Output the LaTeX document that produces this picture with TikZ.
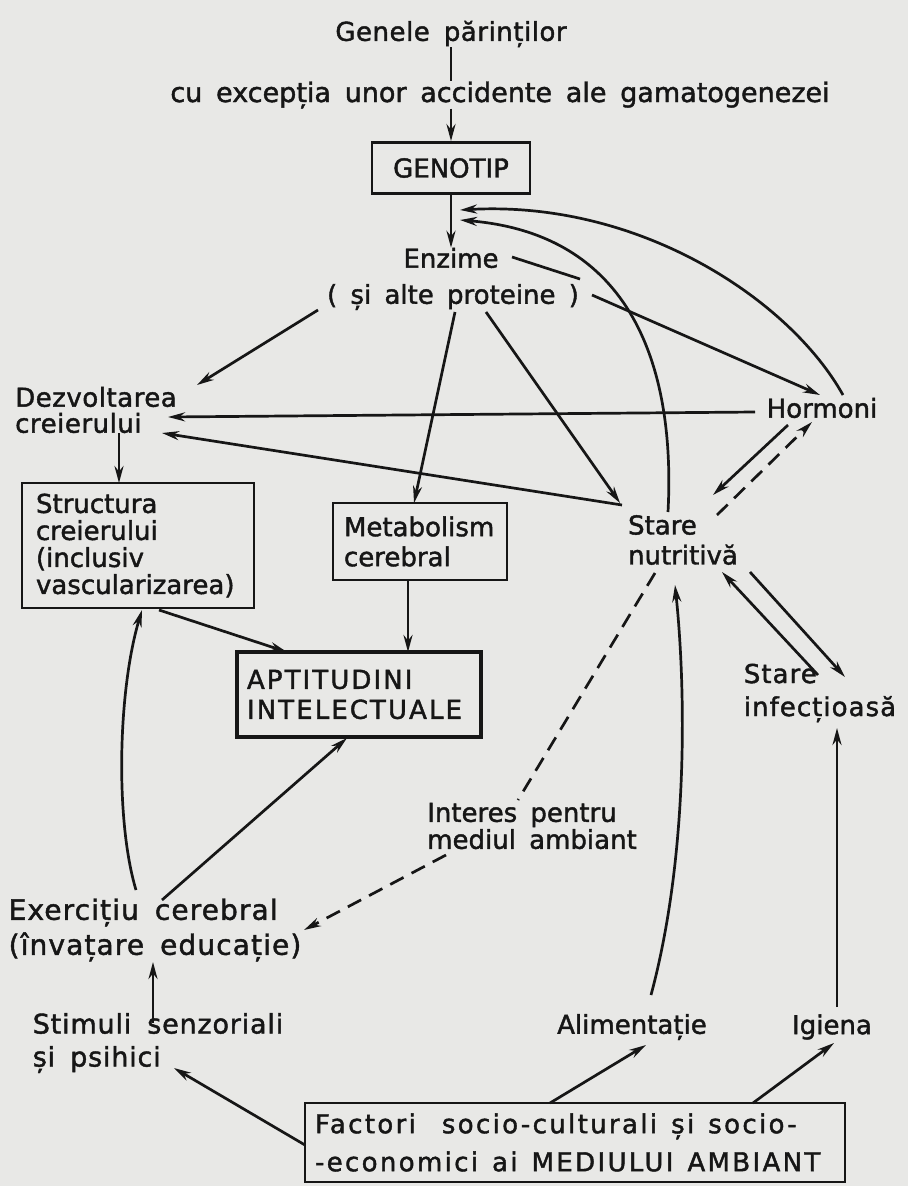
\documentclass[tikz,border=0pt]{standalone}
\usepackage{fontspec}
\newfontfamily\lbfam{DejaVu Sans}[WordSpace=1.6,FakeBold=1.6]
\newcommand\lbf[3]{\lbfam\addfontfeature{LetterSpace=#3}\fontsize{#1}{#2}\selectfont}
\usetikzlibrary{arrows.meta}
\definecolor{paper}{RGB}{232,232,230}
\definecolor{ink}{RGB}{22,22,22}
\begin{document}
\begin{tikzpicture}[x=1pt,y=-1pt,
 txt/.style={inner sep=0pt, align=left, text=ink, font={\lbf{26}{30}{0}}},
 boxn/.style={draw=ink, line width=2.8pt, inner ysep=2pt, align=left, text=ink, font={\lbf{26}{30}{0}}},
 ln/.style={draw=ink, line width=2.7pt},
 conn/.style={ln, -{Stealth[length=17pt,width=9pt]}},
 dsh/.style={dash pattern=on 15pt off 9pt},
]
\fill[paper] (0,0) rectangle (908,1186);
\useasboundingbox (0,0) rectangle (908,1186);

% nodes
\node[txt, font={\lbf{26}{30}{2}}] (gen) at (451,34) {Genele părinților};
\node[txt, font={\lbf{27}{30}{0}}] (exc) at (500,95) {cu excepția unor accidente ale gamatogenezei};
\node[boxn, minimum width=158pt, minimum height=51pt, align=center] (geno) at (451,168) {GENOTIP};
\node[txt] (enz1) at (451,258) {Enzime};
\node[txt] (enz2) at (453,297) {( și alte proteine )};
\node[txt, font={\lbf{26}{26}{2}}] (dez) at (96,410) {Dezvoltarea\\creierului};
\node[txt] (horm) at (822,408) {Hormoni};
\node[boxn, minimum width=232pt, minimum height=125pt, text width=204pt, inner xsep=14pt, font={\lbf{26}{27}{0}}] (str) at (138,545.5) {Structura\\creierului\\(inclusiv\\vascularizarea)};
\node[boxn, minimum width=174pt, minimum height=77pt, text width=152pt, inner xsep=11pt] (met) at (420,541.5) {Metabolism\\cerebral};
\node[boxn, line width=4.5pt, minimum width=244pt, minimum height=85pt, text width=224pt, inner xsep=10pt, font={\lbf{26}{30}{8}}] (apt) at (359,694.5) {APTITUDINI\\INTELECTUALE};
\node[txt] (stn) at (683,540) {Stare\\nutritivă};
\node[txt, font={\lbf{26}{33}{4}}] (sti) at (820,693) {Stare\\infecțioasă};
\node[txt, font={\lbf{26}{27}{0}}] (int) at (532,826) {Interes pentru\\mediul ambiant};
\node[txt, font={\lbf{28}{35}{4}}] (exe) at (155,930) {Exercițiu cerebral\\(învațare educație)};
\node[txt, font={\lbf{27}{33}{3}}] (stim) at (158,1043) {Stimuli\hspace{16pt}senzoriali\\și psihici};
\node[txt] (alim) at (632,1027) {Alimentație};
\node[txt] (igi) at (832,1027) {Igiena};
\node[boxn, minimum width=540pt, minimum height=79pt, text width=520pt, inner xsep=10pt, font={\lbf{26}{38}{9}}] (fac) at (575,1142.5) {Factori\hspace{26pt}socio-culturali\hspace{14pt}și\hspace{14pt}socio-\\-economici\hspace{14pt}ai\hspace{14pt}MEDIULUI\hspace{14pt}AMBIANT};

% connectors
\draw[ln] (gen.south -| geno.north) -- (exc.north -| geno.north);
\draw[conn] (exc.south -| geno.north) -- (geno.north);
\draw[conn] (geno.south) -- (enz1.north);
\draw[conn] ([shift={(21,-13)}]horm.center) .. controls (790,300) and (640,200) .. ([shift={(9,42)}]geno.center);
\draw[conn] ([shift={(-15,-28)}]stn.center) .. controls (675,380) and (640,235) .. ([shift={(9,52)}]geno.center);
\draw[conn] ([shift={(61,-1)}]enz1.center) -- ([shift={(129,21)}]enz1.center)
            ([shift={(139,-2)}]enz2.center) -- ([shift={(-2,-13)}]horm.center);
\draw[conn] ([shift={(-135,13)}]enz2.center) -- ([shift={(101,-25)}]dez.center);
\draw[conn] ([shift={(2,15)}]enz2.center) -- ([shift={(-6,-38.5)}]met.center);
\draw[conn] ([shift={(33,15)}]enz2.center) -- ([shift={(-63,-37)}]stn.center);
\draw[conn] ([shift={(-67,4)}]horm.center) -- ([shift={(72,7)}]dez.center);
\draw[conn] ([shift={(-61,-35)}]stn.center) -- ([shift={(66,23)}]dez.center);
\draw[conn] ([shift={(-34,17)}]horm.center) -- ([shift={(30,-45)}]stn.center);
\draw[conn,dsh] ([shift={(34,-25)}]stn.center) -- ([shift={(-10,14)}]horm.center);
\draw[conn] ([shift={(23,23)}]dez.center) -- ([shift={(-19,-62.5)}]str.center);
\draw[conn] ([shift={(21,64.5)}]str.center) -- ([shift={(-72,-42.5)}]apt.center);
\draw[conn] ([shift={(-12,38.5)}]met.center) -- ([shift={(49,-42.5)}]apt.center);
\draw[conn] ([shift={(67,32)}]stn.center) -- ([shift={(25,-16)}]sti.center);
\draw[conn] ([shift={(-2,-18)}]sti.center) -- ([shift={(39,32)}]stn.center);
\draw[conn] ([shift={(5,-20)}]igi.center) -- ([shift={(17,35)}]sti.center);
\draw[conn] ([shift={(19,-32)}]alim.center) .. controls (690,850) and (685,680) .. ([shift={(-8,45)}]stn.center);
\draw[ln,dsh] ([shift={(-28,33)}]stn.center) -- ([shift={(-14,-26)}]int.center);
\draw[conn,dsh] ([shift={(-86,29)}]int.center) -- ([shift={(149,0)}]exe.center);
\draw[conn] ([shift={(7,-30)}]exe.center) -- ([shift={(-12,43.5)}]apt.center);
\draw[conn] ([shift={(-19,-40)}]exe.center) .. controls (115,820) and (118,690) .. ([shift={(4,64.5)}]str.center);
\draw[conn] ([shift={(-5,-20)}]stim.center) -- ([shift={(-2,32)}]exe.center);
\draw[conn] ([shift={(-270,2.5)}]fac.center) -- ([shift={(16,25)}]stim.center);
\draw[conn] ([shift={(-25,-39.5)}]fac.center) -- ([shift={(14,18)}]alim.center);
\draw[conn] ([shift={(178,-39.5)}]fac.center) -- ([shift={(2,16)}]igi.center);
\end{tikzpicture}
\end{document}
